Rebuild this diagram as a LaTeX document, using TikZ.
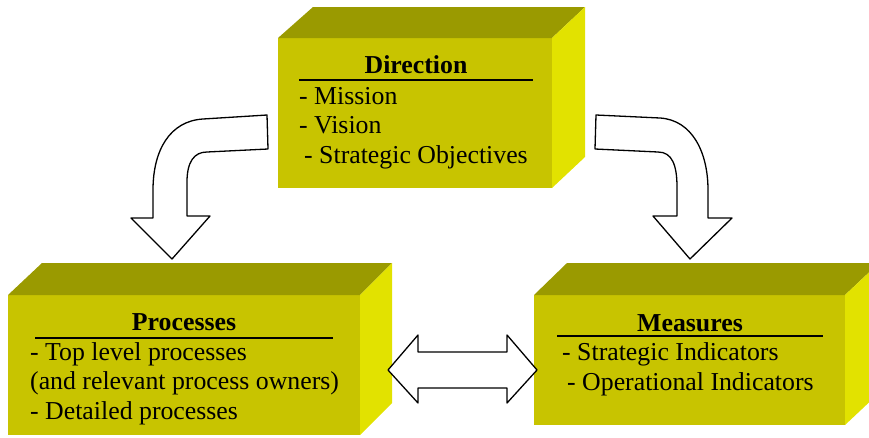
\documentclass[tikz,border=0pt]{standalone}
\usepackage{fontspec}
\setmainfont{Liberation Serif}
\usetikzlibrary{calc}
\definecolor{frontc}{RGB}{200,196,0}
\definecolor{topc}{RGB}{154,154,0}
\definecolor{sidec}{RGB}{226,226,0}
\tikzset{
  frontface/.style={fill=frontc, draw=none, inner sep=0pt, outer sep=0pt, anchor=north west},
  topface/.style={fill=topc},
  sideface/.style={fill=sidec},
  ttl/.style={font=\fontsize{25.8}{30}\selectfont\bfseries, anchor=base, inner sep=0pt},
  itm/.style={font=\fontsize{25.8}{30}\selectfont, anchor=base west, inner sep=0pt},
  uline/.style={line width=1.5pt},
  blockarrow/.style={draw=black, fill=white, line width=1.3pt, line join=round}
}
\begin{document}
\begin{tikzpicture}[x=1pt,y=-1pt]
\useasboundingbox (0,0) rectangle (869,437);
% Direction box
\node[frontface, minimum width=274pt, minimum height=150pt] (dir) at (278,38) {};
\fill[topface] (dir.north west) -- ++(35,-31) -- ($(dir.north east)+(33,-31)$) -- (dir.north east) -- cycle;
\fill[sideface] (dir.north east) -- ++(33,-31) -- ++(0,150) -- (dir.south east) -- cycle;
% Processes box
\node[frontface, minimum width=352pt, minimum height=140pt] (proc) at (8,295) {};
\fill[topface] (proc.north west) -- ++(34,-32) -- ($(proc.north east)+(32,-32)$) -- (proc.north east) -- cycle;
\fill[sideface] (proc.north east) -- ++(32,-32) -- ++(0,140) -- (proc.south east) -- cycle;
% Measures box
\node[frontface, minimum width=311pt, minimum height=130pt] (meas) at (534,295) {};
\fill[topface] (meas.north west) -- ++(33,-32) -- ($(meas.north east)+(34,-32)$) -- (meas.north east) -- cycle;
\fill[sideface] (meas.north east) -- ++(34,-32) -- ++(0,130) -- (meas.south east) -- cycle;

% Direction text
\node[ttl] (dirt) at (416,73) {Direction};
\draw[uline] (299,80) -- (533,80);
\node[itm] (d1) at (299,104) {- Mission};
\node[itm] (d2) at (299,133) {- Vision};
\node[itm] (d3) at (304,163) {- Strategic Objectives};

% Processes text
\node[ttl] (proct) at (184,330) {Processes};
\draw[uline] (35,338) -- (333,338);
\node[itm] (p1) at (30,360) {- Top level processes};
\node[itm] (p2) at (30,389) {(and relevant process owners)};
\node[itm] (p3) at (30,419) {- Detailed processes};

% Measures text
\node[ttl] (meast) at (690,331) {Measures};
\draw[uline] (557,336) -- (823,336);
\node[itm] (m1) at (562,360) {- Strategic Indicators};
\node[itm] (m2) at (567,390) {- Operational Indicators};

% Left curved arrow
\draw[blockarrow] (267,115) -- (203,119) .. controls (170,121) and (153,150) .. (153,190)
  -- (153,218) -- (131,218) -- (172,259) -- (210,216) -- (187,216) -- (187,182)
  .. controls (187,162) and (194,152) .. (207,152) -- (268,149) -- cycle;
% Right curved arrow
\draw[blockarrow] (596,115) -- (660,118) .. controls (692,120) and (708,152) .. (708,190)
  -- (708,218) -- (732,218) -- (690,259) -- (653,216) -- (677,216) -- (677,187)
  .. controls (677,165) and (672,152) .. (658,152) -- (595,149) -- cycle;
% Double arrow
\draw[blockarrow] (388,370) -- (418,335) -- (418,352) -- (507,352) -- (507,335)
  -- (537,370) -- (507,403) -- (507,388) -- (418,388) -- (418,403) -- cycle;
\end{tikzpicture}
\end{document}
